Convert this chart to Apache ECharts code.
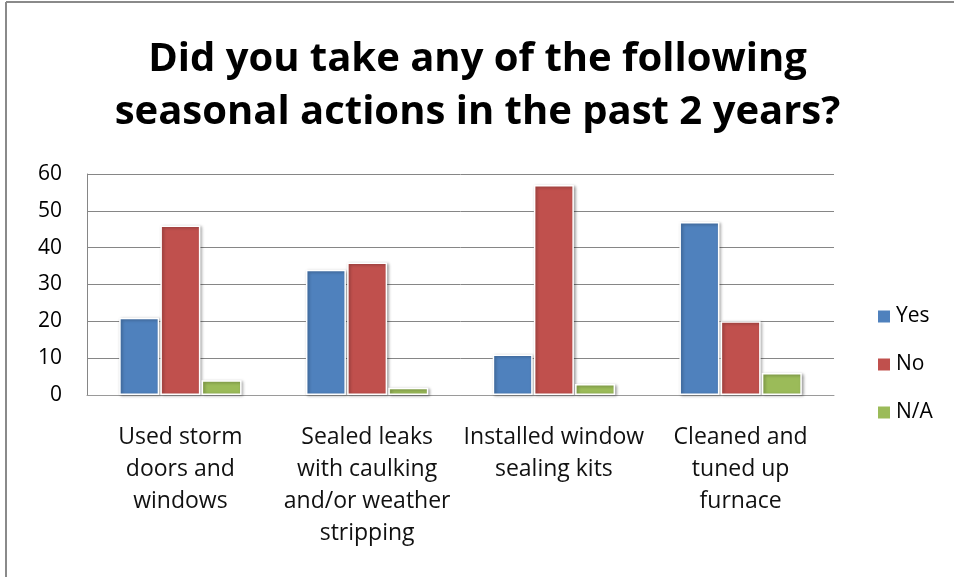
<!DOCTYPE html>
<html>
<head>
<meta charset="utf-8">
<script src="https://cdn.jsdelivr.net/npm/echarts@6/dist/echarts.min.js"></script>
<style>
  html, body { margin: 0; padding: 0; background: #fff; }
  #chart { width: 955px; height: 577px; }
</style>
</head>
<body>
<div id="chart"></div>
<script>
// Survey answers per seasonal action
const categories = [
  'Used storm\ndoors and\nwindows',
  'Sealed leaks\nwith caulking\nand/or weather\nstripping',
  'Installed window\nsealing kits',
  'Cleaned and\ntuned up\nfurnace'
];
const seriesNames = ['Yes', 'No', 'N/A'];
const yesValues = [21, 34, 11, 47];
const noValues = [46, 36, 57, 20];
const naValues = [4, 2, 3, 6];
const seriesColors = ['#4F81BD', '#C0504D', '#9BBB59'];

const FONT = '"Open Sans", Lato, sans-serif';

function barSeries(name, data, color) {
  return {
    name: name,
    type: 'bar',
    data: data,
    barWidth: 40,
    barGap: '3%',
    itemStyle: {
      color: color,
      borderColor: '#ffffff',
      borderWidth: 1.5,
      shadowColor: 'rgba(0,0,0,0.35)',
      shadowBlur: 3,
      shadowOffsetX: 1.5,
      shadowOffsetY: 1
    }
  };
}

const chart = echarts.init(document.getElementById('chart'), null, { renderer: 'canvas' });
chart.setOption({
  backgroundColor: '#ffffff',
  animation: false,
  title: {
    text: 'Did you take any of the following\nseasonal actions in the past 2 years?',
    left: 'center',
    top: 33,
    padding: 0,
    textStyle: {
      fontFamily: FONT,
      fontWeight: 'bold',
      fontSize: 40,
      lineHeight: 53,
      color: '#000'
    }
  },
  legend: {
    orient: 'vertical',
    left: 876,
    top: 306,
    padding: 0,
    icon: 'rect',
    itemWidth: 14,
    itemHeight: 14,
    itemGap: 27,
    data: seriesNames,
    textStyle: {
      fontFamily: FONT,
      fontSize: 21,
      lineHeight: 21,
      color: '#000'
    }
  },
  grid: {
    left: 87,
    right: 121,
    top: 174,
    bottom: 182,
    containLabel: false
  },
  xAxis: {
    type: 'category',
    data: categories,
    axisTick: { show: false },
    axisLine: { show: true, lineStyle: { color: '#9a9a9a', width: 1 } },
    axisLabel: {
      interval: 0,
      margin: 26,
      fontFamily: FONT,
      fontSize: 23,
      lineHeight: 32,
      color: '#111',
      align: 'center'
    }
  },
  yAxis: {
    type: 'value',
    min: 0,
    max: 60,
    interval: 10,
    axisLine: { show: true, lineStyle: { color: '#868686', width: 1 } },
    axisTick: { show: false },
    splitLine: { show: true, lineStyle: { color: '#868686', width: 1 } },
    axisLabel: {
      margin: 25,
      fontFamily: FONT,
      fontSize: 21,
      color: '#000'
    }
  },
  graphic: [
    { type: 'line', shape: { x1: 6, y1: 2, x2: 6, y2: 577 }, style: { stroke: '#8a8a8a', lineWidth: 2 } },
    { type: 'line', shape: { x1: 6, y1: 2, x2: 954, y2: 2 }, style: { stroke: '#8a8a8a', lineWidth: 2 } }
  ],
  series: [
    barSeries(seriesNames[0], yesValues, seriesColors[0]),
    barSeries(seriesNames[1], noValues, seriesColors[1]),
    barSeries(seriesNames[2], naValues, seriesColors[2])
  ]
});
</script>
</body>
</html>
